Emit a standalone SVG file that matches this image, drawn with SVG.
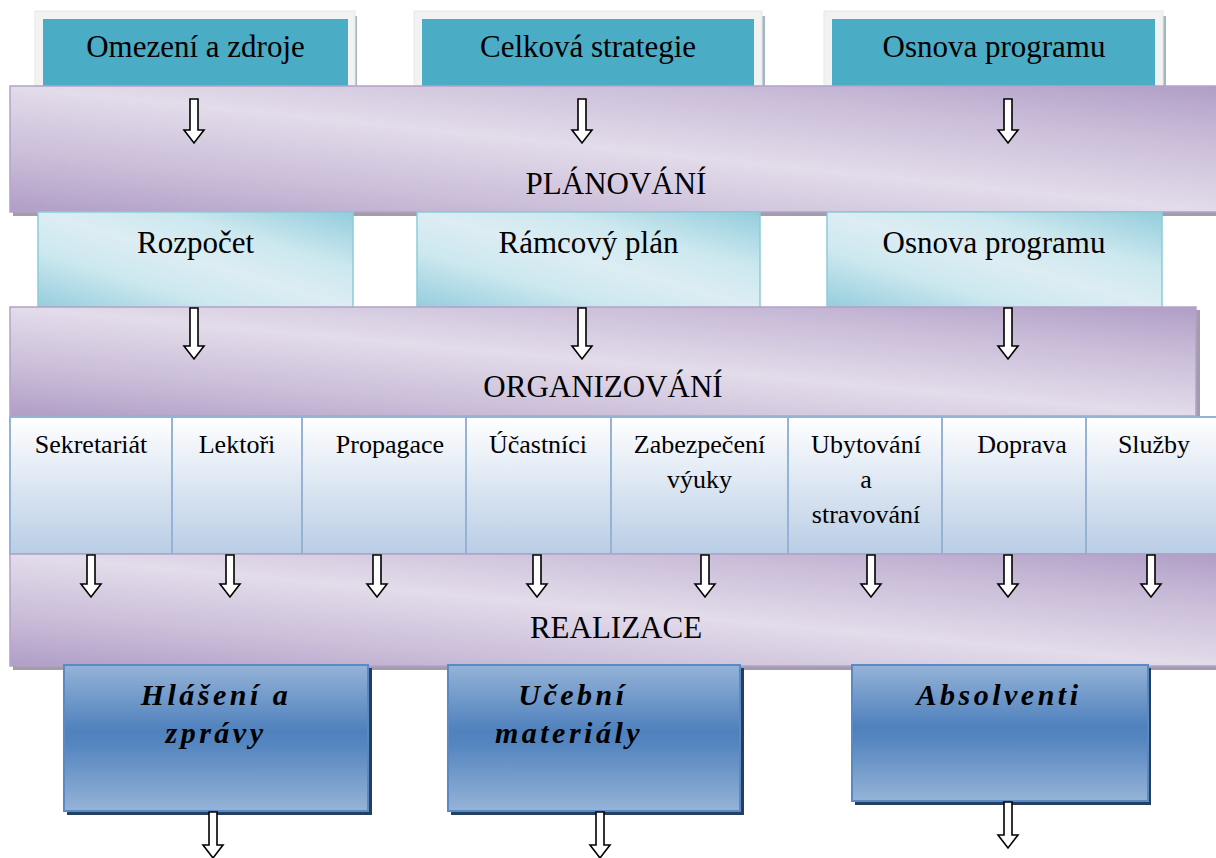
<svg xmlns="http://www.w3.org/2000/svg" width="1216" height="858" viewBox="0 0 1216 858">
<defs>
<linearGradient id="gBand" x1="0" y1="1" x2="1" y2="0">
<stop offset="0" stop-color="#b09ec6"/>
<stop offset="0.22" stop-color="#c9bcd8"/>
<stop offset="0.5" stop-color="#e3dcea"/>
<stop offset="0.78" stop-color="#c9bcd8"/>
<stop offset="1" stop-color="#b09ec6"/>
</linearGradient>
<linearGradient id="gCyan" x1="0" y1="1" x2="1" y2="0">
<stop offset="0" stop-color="#93cddc"/>
<stop offset="0.3" stop-color="#cde8ef"/>
<stop offset="0.5" stop-color="#dcedf3"/>
<stop offset="0.7" stop-color="#cde8ef"/>
<stop offset="1" stop-color="#93cddc"/>
</linearGradient>
<linearGradient id="gCell" x1="0" y1="0" x2="0" y2="1">
<stop offset="0" stop-color="#ffffff"/>
<stop offset="1" stop-color="#b9cde5"/>
</linearGradient>
<linearGradient id="gBlue" x1="0" y1="0" x2="0" y2="1">
<stop offset="0" stop-color="#95b3d7"/>
<stop offset="0.45" stop-color="#4f81bd"/>
<stop offset="0.55" stop-color="#5686c0"/>
<stop offset="1" stop-color="#95b3d7"/>
</linearGradient>
<style>
.t{font-family:"Liberation Serif","Times New Roman",serif;fill:#000;text-anchor:middle}
.big{font-size:31px}
.cell{font-size:26px}
.bi{font-size:30px;font-weight:bold;font-style:italic;letter-spacing:3.5px}
.frame{fill:#f2f2f2;stroke:#e8e8e8;stroke-width:1}
.teal{fill:#4bacc6}
.tshadow{fill:#a3b6c2}
.band{fill:url(#gBand);stroke:#b3a2c7;stroke-width:1.5}
.bshadow{fill:#a39dab}
.cyan{fill:url(#gCyan);stroke:#8ccbd9;stroke-width:1.5}
.cellr{fill:url(#gCell);stroke:#95b3d7;stroke-width:2}
.blue{fill:url(#gBlue);stroke:#5a8ac6;stroke-width:2}
.blshadow{fill:#243f60}
.arr{fill:#fff;stroke:#000;stroke-width:1.6;stroke-linejoin:miter}
</style>
</defs>

<g id="top-omezeni">
<rect class="tshadow" x="354" y="16" width="3" height="70"/>
<rect class="frame" x="35" y="11" width="320" height="75"/>
<rect class="teal" x="43" y="19" width="305" height="67"/>
<text class="t big" x="195.5" y="57">Omezení a zdroje</text>
</g>
<g id="top-strategie">
<rect class="tshadow" x="762" y="16" width="3" height="70"/>
<rect class="frame" x="414" y="11" width="348" height="75"/>
<rect class="teal" x="422" y="19" width="332" height="67"/>
<text class="t big" x="588" y="57">Celková strategie</text>
</g>
<g id="top-osnova">
<rect class="tshadow" x="1163" y="16" width="3" height="70"/>
<rect class="frame" x="824" y="11" width="339" height="75"/>
<rect class="teal" x="832" y="19" width="323" height="67"/>
<text class="t big" x="994" y="57">Osnova programu</text>
</g>

<g id="planovani">
<rect class="bshadow" x="13" y="90" width="1203" height="126"/>
<rect class="band" x="10" y="86" width="1210" height="126"/>
<text class="t big" x="616" y="194">PLÁNOVÁNÍ</text>
</g>

<g id="rozpocet">
<rect class="cyan" x="38" y="212" width="315" height="96"/>
<text class="t big" x="195.5" y="253">Rozpočet</text>
</g>
<g id="ramcovy-plan">
<rect class="cyan" x="417" y="212" width="343" height="96"/>
<text class="t big" x="588.5" y="253">Rámcový plán</text>
</g>
<g id="osnova-programu-2">
<rect class="cyan" x="827" y="212" width="335" height="96"/>
<text class="t big" x="994" y="253">Osnova programu</text>
</g>

<g id="organizovani">
<rect class="bshadow" x="13" y="310" width="1187" height="110"/>
<rect class="band" x="10" y="307" width="1186" height="109"/>
<text class="t big" x="603" y="397">ORGANIZOVÁNÍ</text>
</g>

<g id="sekretariat"><rect class="cellr" x="10" y="417" width="162" height="137"/><text class="t cell" x="91" y="453">Sekretariát</text></g>
<g id="lektori"><rect class="cellr" x="172" y="417" width="130" height="137"/><text class="t cell" x="237" y="453">Lektoři</text></g>
<g id="propagace"><rect class="cellr" x="302" y="417" width="164" height="137"/><text class="t cell" x="390" y="453">Propagace</text></g>
<g id="ucastnici"><rect class="cellr" x="466" y="417" width="145" height="137"/><text class="t cell" x="538" y="453">Účastníci</text></g>
<g id="zabezpeceni"><rect class="cellr" x="611" y="417" width="177" height="137"/><text class="t cell" x="699.5" y="453">Zabezpečení</text><text class="t cell" x="699.5" y="488">výuky</text></g>
<g id="ubytovani"><rect class="cellr" x="788" y="417" width="154" height="137"/><text class="t cell" x="866" y="453">Ubytování</text><text class="t cell" x="866" y="488">a</text><text class="t cell" x="866" y="523">stravování</text></g>
<g id="doprava"><rect class="cellr" x="942" y="417" width="144" height="137"/><text class="t cell" x="1022" y="453">Doprava</text></g>
<g id="sluzby"><rect class="cellr" x="1086" y="417" width="132" height="137"/><text class="t cell" x="1154" y="453">Služby</text></g>

<g id="realizace">
<rect class="bshadow" x="13" y="558" width="1203" height="112"/>
<rect class="band" x="10" y="554" width="1210" height="112"/>
<text class="t big" x="616" y="638">REALIZACE</text>
</g>

<g id="hlaseni">
<rect class="blshadow" x="67" y="668" width="305" height="147"/>
<rect class="blue" x="64" y="665" width="304" height="146"/>
<text class="t bi" x="216" y="705">Hlášení a</text>
<text class="t bi" x="216" y="743">zprávy</text>
</g>
<g id="ucebni">
<rect class="blshadow" x="451" y="668" width="293" height="147"/>
<rect class="blue" x="448" y="665" width="292" height="146"/>
<text class="t bi" x="573" y="705">Učební</text>
<text class="t bi" x="569" y="743">materiály</text>
</g>
<g id="absolventi">
<rect class="blshadow" x="855" y="668" width="296" height="137"/>
<rect class="blue" x="852" y="665" width="296" height="136"/>
<text class="t bi" x="999" y="705">Absolventi</text>
</g>

<g id="connectors">
<path class="arr" d="M190,99 H198 V130 H204 L194,143 L184,130 H190 Z"/>
<path class="arr" d="M578,99 H586 V130 H592 L582,143 L572,130 H578 Z"/>
<path class="arr" d="M1004,99 H1012 V130 H1018 L1008,143 L998,130 H1004 Z"/>

<path class="arr" d="M190,308 H198 V346 H204 L194,359 L184,346 H190 Z"/>
<path class="arr" d="M578,308 H586 V346 H592 L582,359 L572,346 H578 Z"/>
<path class="arr" d="M1004,308 H1012 V346 H1018 L1008,359 L998,346 H1004 Z"/>

<path class="arr" d="M87,555 H95 V584 H101 L91,597 L81,584 H87 Z"/>
<path class="arr" d="M226,555 H234 V584 H240 L230,597 L220,584 H226 Z"/>
<path class="arr" d="M373,555 H381 V584 H387 L377,597 L367,584 H373 Z"/>
<path class="arr" d="M533,555 H541 V584 H547 L537,597 L527,584 H533 Z"/>
<path class="arr" d="M701,555 H709 V584 H715 L705,597 L695,584 H701 Z"/>
<path class="arr" d="M867,555 H875 V584 H881 L871,597 L861,584 H867 Z"/>
<path class="arr" d="M1004,555 H1012 V584 H1018 L1008,597 L998,584 H1004 Z"/>
<path class="arr" d="M1147,555 H1155 V584 H1161 L1151,597 L1141,584 H1147 Z"/>

<path class="arr" d="M209,812 H217 V845 H223 L213,858 L203,845 H209 Z"/>
<path class="arr" d="M596,812 H604 V845 H610 L600,858 L590,845 H596 Z"/>
<path class="arr" d="M1004,802 H1012 V835 H1018 L1008,848 L998,835 H1004 Z"/>
</g>
</svg>
